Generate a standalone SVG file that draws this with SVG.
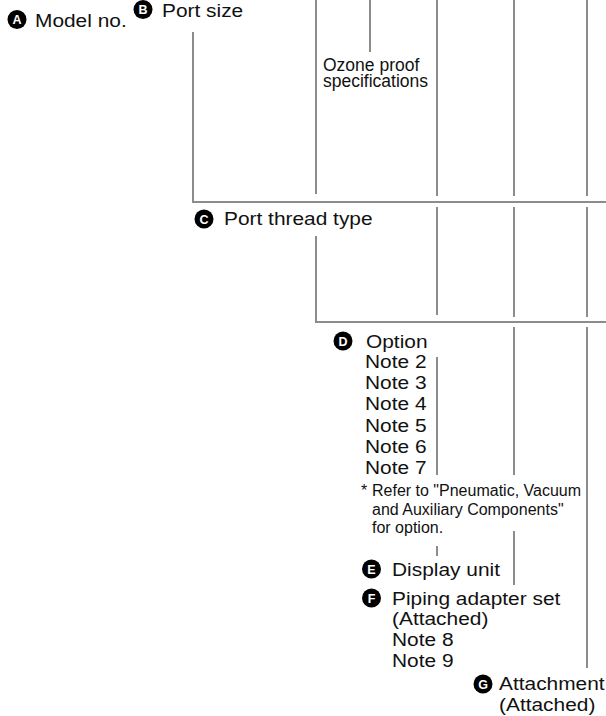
<svg xmlns="http://www.w3.org/2000/svg" width="606" height="716" viewBox="0 0 606 716">
  <style>
    .ln { stroke: #8c8c8c; stroke-width: 2; fill: none; }
    .lbl { font-family: "Liberation Sans", Arial, Helvetica, sans-serif; font-size: 18.5px; fill: #111; }
    .plain { font-family: "Liberation Sans", Arial, Helvetica, sans-serif; font-size: 17.5px; fill: #111; }
    .foot { font-family: "Liberation Sans", Arial, Helvetica, sans-serif; font-size: 16px; fill: #111; }
    .badge { fill: #000; }
    .badge-t { font-family: "Liberation Sans", Arial, Helvetica, sans-serif; font-size: 12.5px; font-weight: bold; fill: #fff; text-anchor: middle; }
  </style>

  <!-- connector lines -->
  <g id="connectors">
    <!-- A/B branch -->
    <path class="ln" d="M193 32 V202 H606"/>
    <line class="ln" x1="316" y1="0" x2="316" y2="194"/>
    <!-- ozone proof tick -->
    <line class="ln" x1="370" y1="0" x2="370" y2="52"/>
    <!-- through lines, upper section -->
    <line class="ln" x1="437" y1="0" x2="437" y2="196"/>
    <line class="ln" x1="514" y1="0" x2="514" y2="196"/>
    <line class="ln" x1="587" y1="0" x2="587" y2="196"/>
    <!-- C branch -->
    <path class="ln" d="M316 236 V322 H606"/>
    <line class="ln" x1="437" y1="207" x2="437" y2="315"/>
    <line class="ln" x1="514" y1="207" x2="514" y2="317"/>
    <line class="ln" x1="587" y1="207" x2="587" y2="317"/>
    <!-- D/E/F/G section -->
    <line class="ln" x1="437" y1="357" x2="437" y2="475"/>
    <line class="ln" x1="437" y1="546" x2="437" y2="556"/>
    <line class="ln" x1="514" y1="327" x2="514" y2="475"/>
    <line class="ln" x1="514" y1="531" x2="514" y2="585"/>
    <line class="ln" x1="587" y1="327" x2="587" y2="668"/>
  </g>

  <g id="model-no">
    <circle class="badge" cx="17" cy="19.5" r="9.5"/>
    <text class="badge-t" x="17" y="24">A</text>
    <text class="lbl" transform="translate(35 27) scale(1.13 1)">Model no.</text>
  </g>

  <g id="port-size">
    <circle class="badge" cx="143" cy="9.5" r="9.5"/>
    <text class="badge-t" x="143" y="14">B</text>
    <text class="lbl" transform="translate(162 17) scale(1.13 1)">Port size</text>
  </g>

  <g id="ozone-proof">
    <text class="plain" x="323" y="70.5">Ozone proof<tspan x="323" dy="16">specifications</tspan></text>
  </g>

  <g id="port-thread">
    <circle class="badge" cx="204" cy="219" r="9.5"/>
    <text class="badge-t" x="204" y="223.5">C</text>
    <text class="lbl" transform="translate(224 225) scale(1.13 1)">Port thread type</text>
  </g>

  <g id="option">
    <circle class="badge" cx="343" cy="341" r="9.5"/>
    <text class="badge-t" x="343" y="345.5">D</text>
    <text class="lbl" transform="translate(366 347.5) scale(1.13 1)">Option</text>
    <text class="lbl" transform="translate(365 368) scale(1.13 1)">Note 2<tspan x="0" dy="21.2">Note 3</tspan><tspan x="0" dy="21.2">Note 4</tspan><tspan x="0" dy="21.2">Note 5</tspan><tspan x="0" dy="21.2">Note 6</tspan><tspan x="0" dy="21.2">Note 7</tspan></text>
    <text class="foot" x="361" y="496">*</text>
    <text class="foot" x="372" y="496">Refer to "Pneumatic, Vacuum<tspan x="372" dy="18.5">and Auxiliary Components"</tspan><tspan x="372" dy="18.5">for option.</tspan></text>
  </g>

  <g id="display-unit">
    <circle class="badge" cx="371.5" cy="569" r="9.5"/>
    <text class="badge-t" x="371.5" y="573.5">E</text>
    <text class="lbl" transform="translate(392 575.5) scale(1.13 1)">Display unit</text>
  </g>

  <g id="piping-adapter">
    <circle class="badge" cx="371.5" cy="598" r="9.5"/>
    <text class="badge-t" x="371.5" y="602.5">F</text>
    <text class="lbl" transform="translate(392 604.5) scale(1.13 1)">Piping adapter set<tspan x="0" dy="21">(Attached)</tspan><tspan x="0" dy="21">Note 8</tspan><tspan x="0" dy="21">Note 9</tspan></text>
  </g>

  <g id="attachment">
    <circle class="badge" cx="483" cy="684" r="9.5"/>
    <text class="badge-t" x="483" y="688.5">G</text>
    <text class="lbl" transform="translate(499 690) scale(1.13 1)">Attachment<tspan x="0" dy="21">(Attached)</tspan></text>
  </g>
</svg>
